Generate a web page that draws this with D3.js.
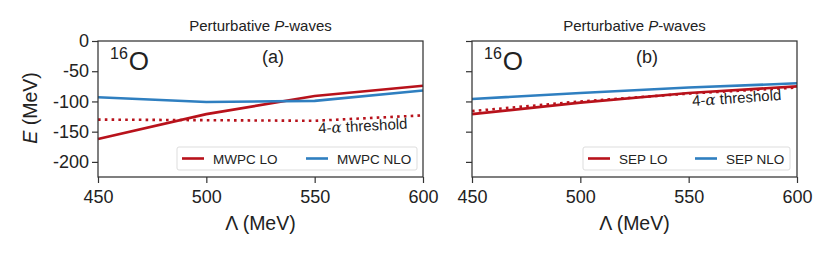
<!DOCTYPE html>
<html lang="en">
<head>
<meta charset="UTF-8">
<title>16O perturbative P-waves</title>
<script src="https://cdn.jsdelivr.net/npm/d3@7"></script>
<style>
  body { margin: 0; background: #fff; }
  text { font-family: "Liberation Sans", Arial, sans-serif; fill: #222; }
</style>
</head>
<body>
<div id="container"></div>
<script>
const width = 830;
const height = 256;

const cutoffs = [450, 500, 550, 600];
const xTicks = [450, 500, 550, 600];
const yTicks = [0, -50, -100, -150, -200];

const mwpcLO = [-162, -121, -91, -74];
const mwpcNLO = [-93, -101, -99, -82];
const mwpcThreshold = [-130, -131, -132, -123];

const sepLO = [-121, -102, -86, -75];
const sepNLO = [-96, -86, -77, -70];
const sepThreshold = [-116, -100, -87, -77];

const red = "#b8121b";
const blue = "#2f7fc0";

const panels = [
  { left: 98, tag: "(a)", lo: mwpcLO, nlo: mwpcNLO, thr: mwpcThreshold,
    names: ["MWPC LO", "MWPC NLO"], yLabels: true,
    thrText: { x: 363, y: 131, rot: -3 },
    legend: { x: 177, w: 240, gap: 124 } },
  { left: 472, tag: "(b)", lo: sepLO, nlo: sepNLO, thr: sepThreshold,
    names: ["SEP LO", "SEP NLO"], yLabels: false,
    thrText: { x: 737, y: 103, rot: -4 },
    legend: { x: 583, w: 207, gap: 107 } }
];

const plotW = 325;
const plotTop = 41, plotBottom = 177;

const svg = d3.select("#container").append("svg")
  .attr("width", width)
  .attr("height", height);

const y = d3.scaleLinear().domain([-225, 0]).range([plotBottom, plotTop]);

panels.forEach(p => {
  const x = d3.scaleLinear().domain([450, 600]).range([p.left, p.left + plotW]);
  const g = svg.append("g");

  // title
  g.append("text")
    .attr("x", p.left + plotW / 2).attr("y", 31)
    .attr("text-anchor", "middle").attr("font-size", 15)
    .call(t => t.append("tspan").text("Perturbative "))
    .call(t => t.append("tspan").attr("font-style", "italic").text("P"))
    .call(t => t.append("tspan").text("-waves"));

  // axes
  const xAxis = g.append("g")
    .attr("transform", `translate(0,${plotBottom})`)
    .call(d3.axisBottom(x).tickValues(xTicks).tickSize(6).tickPadding(5));
  xAxis.selectAll("text").attr("font-size", 18).attr("dy", "0.85em");

  const yAxis = g.append("g")
    .attr("transform", `translate(${p.left},0)`)
    .call(d3.axisLeft(y).tickValues(yTicks).tickSize(6).tickPadding(3)
      .tickFormat(d => p.yLabels ? String(d) : ""));
  yAxis.selectAll("text").attr("font-size", 18);
  g.selectAll(".domain").remove();
  g.selectAll(".tick line").attr("stroke", "#333").attr("stroke-width", 1.2);

  // lines
  const line = d3.line().x((d, i) => x(cutoffs[i])).y(d => y(d));
  const lines = g.append("g");
  lines.append("path").datum(p.thr).attr("d", line)
    .attr("fill", "none").attr("stroke", red).attr("stroke-width", 2.6)
    .attr("stroke-dasharray", "2.6,4.2");
  lines.append("path").datum(p.lo).attr("d", line)
    .attr("fill", "none").attr("stroke", red).attr("stroke-width", 2.6);
  lines.append("path").datum(p.nlo).attr("d", line)
    .attr("fill", "none").attr("stroke", blue).attr("stroke-width", 2.6);

  // threshold label
  g.append("text")
    .attr("transform", `translate(${p.thrText.x},${p.thrText.y}) rotate(${p.thrText.rot})`)
    .attr("text-anchor", "middle").attr("font-size", 15)
    .call(t => t.append("tspan").text("4-"))
    .call(t => t.append("tspan").attr("font-style", "italic").attr("font-family", "DejaVu Serif").text("α"))
    .call(t => t.append("tspan").text(" threshold"));

  // frame
  g.append("rect")
    .attr("x", p.left).attr("y", plotTop).attr("width", plotW).attr("height", plotBottom - plotTop)
    .attr("fill", "none").attr("stroke", "#333").attr("stroke-width", 1.25);

  // 16O label
  const iso = g.append("text").attr("x", p.left + 12).attr("y", 70)
    .attr("font-family", "DejaVu Sans");
  iso.append("tspan").attr("font-size", 16).attr("dy", -11.5).text("16");
  iso.append("tspan").attr("font-size", 26).attr("dx", 1).attr("dy", 11.5).text("O");

  g.append("text")
    .attr("x", p.left + 175).attr("y", 63)
    .attr("text-anchor", "middle").attr("font-size", 18).text(p.tag);

  // legend
  const lg = g.append("g").attr("transform", `translate(${p.legend.x},147)`);
  lg.append("rect").attr("width", p.legend.w).attr("height", 23).attr("rx", 2)
    .attr("fill", "white").attr("fill-opacity", 0.8).attr("stroke", "#ddd");
  [red, blue].forEach((c, i) => {
    const ox = 5 + i * p.legend.gap;
    lg.append("line").attr("x1", ox).attr("x2", ox + 22).attr("y1", 11.5).attr("y2", 11.5)
      .attr("stroke", c).attr("stroke-width", 2.6);
    lg.append("text").attr("x", ox + 31).attr("y", 16.5)
      .attr("font-size", 13.5).text(p.names[i]);
  });

  // x label
  g.append("text")
    .attr("x", p.left + plotW / 2).attr("y", 230)
    .attr("text-anchor", "middle").attr("font-size", 19.5).text("Λ (MeV)");
});

// y label
svg.append("text")
  .attr("transform", "translate(37,108) rotate(-90)")
  .attr("text-anchor", "middle").attr("font-size", 19.5)
  .call(t => t.append("tspan").attr("font-style", "italic").text("E"))
  .call(t => t.append("tspan").text(" (MeV)"));
</script>
</body>
</html>
